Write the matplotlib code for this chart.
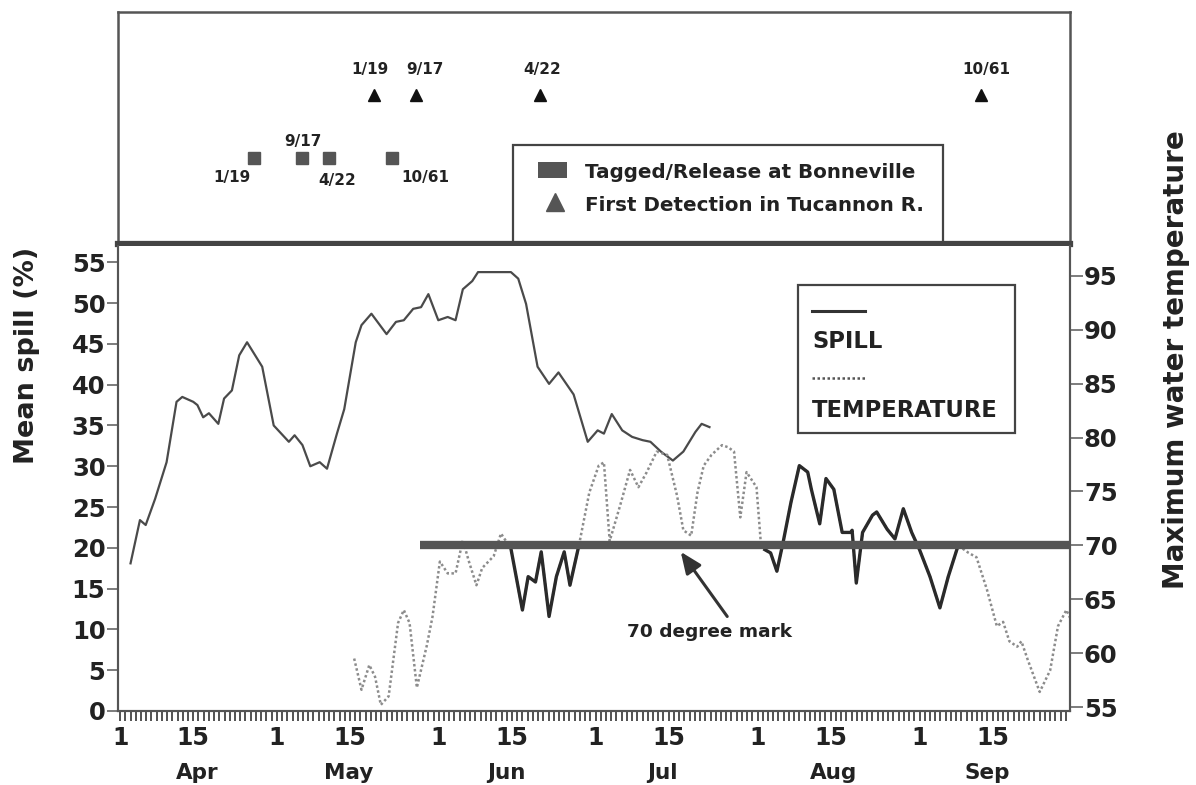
import numpy as np
import matplotlib
matplotlib.use('Agg')
import matplotlib.pyplot as plt
from matplotlib.patches import Rectangle

plt.rcParams['font.family'] = ['DejaVu Sans']
plt.rcParams['font.weight'] = 'bold'

# day 0 = April 1
spill_day = [2.0, 3.8, 4.9, 6.7, 8.9, 10.8, 11.9, 14.0, 14.8, 15.9, 17.0, 18.8, 19.9, 21.4,
             22.8, 24.3, 27.2, 29.4, 32.3, 33.4, 34.9, 36.4, 38.2, 39.6, 41.5, 42.9, 45.1,
             46.2, 48.1, 51.0, 52.8, 54.3, 56.1, 57.6, 59.0, 60.9, 62.7, 64.2, 65.6, 67.4,
             68.5, 71.8, 74.8, 76.2, 77.7, 79.9, 82.1, 83.9, 86.8, 89.5, 91.4, 92.6, 94.1,
             96.1, 98.0, 100.0, 101.5, 103.5, 105.8, 107.8, 110.1, 111.3, 112.8]
spill_pct = [18.1, 23.4, 22.8, 26.0, 30.5, 37.9, 38.5, 37.9, 37.5, 36.0, 36.5, 35.2, 38.3, 39.3,
             43.6, 45.2, 42.2, 35.0, 33.0, 33.8, 32.6, 30.0, 30.5, 29.7, 34.0, 37.0, 45.2,
             47.3, 48.7, 46.2, 47.7, 47.9, 49.3, 49.5, 51.1, 47.9, 48.3, 47.9, 51.7, 52.7,
             53.8, 53.8, 53.8, 53.0, 49.9, 42.2, 40.1, 41.5, 38.8, 33.0, 34.4, 34.0, 36.4,
             34.4, 33.6, 33.2, 33.0, 31.8, 30.7, 31.8, 34.2, 35.2, 34.8]

temp_day = [44.8, 46.2, 47.7, 48.8, 49.9, 51.4, 53.2, 54.3, 55.4, 56.8, 58.7, 59.8, 61.2, 62.7,
            64.2, 65.6, 66.7, 68.2, 69.3, 71.5, 72.9, 74.8, 77.0, 78.1, 79.5, 80.6, 82.1, 83.5,
            85.0, 86.1, 87.9, 89.8, 91.6, 92.6, 93.7, 95.7, 97.6, 99.2, 100.8, 102.7, 104.7,
            106.6, 107.8, 109.3, 110.5, 111.7, 113.2, 115.2, 116.4, 117.5, 118.7, 119.9, 121.8,
            122.6, 123.4, 124.5, 125.7, 126.9, 128.4, 130.0, 131.6, 132.3, 133.9, 135.1, 136.6,
            138.2, 139.8, 140.1, 140.9, 142.1, 144.0, 144.8, 146.8, 148.3, 149.9, 151.5, 153.0,
            155.0, 156.9, 158.5, 160.4, 162.4, 163.9, 165.9, 167.8, 169.0, 170.2, 171.7, 172.5,
            173.7, 176.0, 178.0, 179.5, 181.1, 182.2]
temp_f = [59.5, 56.6, 58.9, 57.8, 55.2, 56.0, 62.8, 64.0, 62.8, 56.8, 60.7, 63.4, 68.5, 67.4,
          67.4, 70.5, 68.6, 66.3, 67.9, 69.0, 71.1, 69.7, 64.0, 67.1, 66.6, 69.4, 63.4, 67.1,
          69.4, 66.3, 70.2, 74.9, 77.4, 77.7, 70.4, 73.7, 77.0, 75.4, 76.8, 78.7, 78.4,
          74.6, 71.4, 70.9, 74.9, 77.4, 78.4, 79.3, 79.1, 78.7, 72.6, 76.8, 75.4,
          70.4, 69.6, 69.3, 67.6, 70.3, 74.0, 77.4, 76.8, 75.2, 72.0, 76.2, 75.2,
          71.2, 71.2, 71.4, 66.5, 71.2, 72.8, 73.1, 71.5, 70.6, 73.4, 71.2, 69.6,
          67.1, 64.2, 67.1, 70.0, 69.3, 68.9, 65.9, 62.5, 62.9, 61.1, 60.6, 61.1,
          59.4, 56.4, 58.4, 62.5, 64.0, 62.9]
# stretches of the temperature trace printed solid in the original
dark_spans = [(74.8, 87.9), (123.4, 160.4)]

release_day = [25.6, 34.9, 40.0, 52.0]
release_lab = ['1/19', '9/17', '4/22', '10/61']
detect_day = [48.6, 56.7, 80.3, 164.8]
detect_lab = ['1/19', '9/17', '4/22', '10/61']

tick_days = [0, 14, 30, 44, 61, 75, 91, 105, 122, 136, 153, 167]
tick_labs = ['1', '15'] * 6
month_days = [14.8, 43.8, 74, 103.8, 136.5, 166]
months = ['Apr', 'May', 'Jun', 'Jul', 'Aug', 'Sep']

W, H = 1196, 785
fig = plt.figure(figsize=(11.96, 7.85), dpi=100)
txt = '#222222'

# ---------- top panel ----------
axt = fig.add_axes([118 / W, 1 - 244 / H, 952 / W, 232 / H])
axt.set_xlim(-0.4, 181.8)
axt.set_ylim(-0.37, 3.32)
axt.set_xticks([])
axt.set_yticks([])
for s in ['top', 'left', 'right']:
    axt.spines[s].set_color('#555555')
    axt.spines[s].set_linewidth(1.8)
axt.spines['bottom'].set_color('#444444')
axt.spines['bottom'].set_linewidth(4.5)

axt.plot(release_day, [1] * len(release_day), ls='none', marker='s', ms=8.5,
         color='#555555', mec='#555555')
axt.plot(detect_day, [2] * len(detect_day), ls='none', marker='^', ms=9,
         color='#111111')
rel_off = [(-16, -14), (0, 12), (6, -16), (24, -14)]
for d, lab, off in zip(release_day, release_lab, rel_off):
    axt.annotate(lab, (d, 1), xytext=off, textcoords='offset points',
                 ha='center', va='center', fontsize=11, color=txt)
det_off = [(-3, 18), (6, 18), (2, 18), (4, 18)]
for d, lab, off in zip(detect_day, detect_lab, det_off):
    axt.annotate(lab, (d, 2), xytext=off, textcoords='offset points',
                 ha='center', va='center', fontsize=11, color=txt)

# legend of top panel
axt.add_patch(Rectangle((0.415, 0.0), 0.452, 0.427, transform=axt.transAxes,
                        fill=False, ec='#444444', lw=1.6, zorder=3))
axt.add_patch(Rectangle((0.441, 0.283), 0.031, 0.072, transform=axt.transAxes,
                        fc='#555555', ec='none', zorder=3))
axt.plot([0.459], [0.181], marker='^', ms=13, color='#555555', ls='none',
         transform=axt.transAxes, zorder=3)
axt.text(0.4905, 0.31, 'Tagged/Release at Bonneville', transform=axt.transAxes,
         fontsize=14.3, va='center', ha='left', color=txt)
axt.text(0.4905, 0.168, 'First Detection in Tucannon R.', transform=axt.transAxes,
         fontsize=14.3, va='center', ha='left', color=txt)

# ---------- bottom panel ----------
ax = fig.add_axes([118 / W, 1 - 711 / H, 952 / W, (711 - 246) / H])
ax2 = ax.twinx()
ax.set_xlim(-0.4, 181.8)
ax.set_ylim(0, 57)
ax2.set_ylim(54.63, 97.78)

ax.plot(spill_day, spill_pct, color='#4a4a4a', lw=1.6)

ax2.plot(temp_day, temp_f, color='#8c8c8c', lw=1.8, ls=(0, (1, 1)))
td = np.array(temp_day)
tf = np.array(temp_f)
for a, b in dark_spans:
    m = (td >= a) & (td <= b)
    ax2.plot(td[m], tf[m], color='#2a2a2a', lw=2.4)

ax2.hlines(70, 57.4, 181.8, color='#555555', lw=6, zorder=4)

ax2.annotate('', xy=(107.3, 69.4), xytext=(116.2, 63.4),
             arrowprops=dict(arrowstyle='-|>,head_length=1.3,head_width=0.55',
                             color='#333333', lw=2.2, shrinkA=0, shrinkB=0))
ax2.text(112.9, 62.0, '70 degree mark', ha='center', va='center',
         fontsize=13.3, color=txt)

# axis styling
for a_ in (ax, ax2):
    a_.spines['top'].set_visible(False)
    for s in ['left', 'right', 'bottom']:
        a_.spines[s].set_color('#555555')
        a_.spines[s].set_linewidth(1.5)

ax.set_xticks(tick_days)
ax.set_xticklabels(tick_labs)
ax.set_xticks(np.arange(0, 182), minor=True)
ax.tick_params(axis='x', which='both', direction='out', length=7, width=1.3,
               color='#444444', pad=4, labelsize=17, labelcolor=txt)
ax.set_yticks(np.arange(0, 56, 5))
ax.tick_params(axis='y', direction='out', length=8, width=1.2, color='#666666',
               pad=1, labelsize=17.5, labelcolor=txt)
ax2.set_yticks(np.arange(55, 96, 5))
ax2.tick_params(axis='y', direction='out', length=9, width=1.2, color='#666666',
                pad=1, labelsize=17.5, labelcolor=txt)
for lab in ax.get_xticklabels() + ax.get_yticklabels() + ax2.get_yticklabels():
    lab.set_fontweight('bold')

for d, mname in zip(month_days, months):
    ax.text(d, -0.133, mname, transform=ax.get_xaxis_transform(), ha='center',
            va='center', fontsize=15.5, color=txt)

# legend of bottom panel
ax.add_patch(Rectangle((0.714, 0.598), 0.228, 0.318, transform=ax.transAxes,
                       fill=False, ec='#444444', lw=1.6, zorder=5))
ax.plot([0.729, 0.785], [0.860, 0.860], color='#333333', lw=2.2,
        transform=ax.transAxes, zorder=5)
ax.text(0.729, 0.794, 'SPILL', transform=ax.transAxes, fontsize=16.3,
        ha='left', va='center', color=txt, zorder=5)
ax.plot([0.729, 0.785], [0.716, 0.716], color='#555555', lw=1.8, ls=(0, (1, 1)),
        transform=ax.transAxes, zorder=5)
ax.text(0.729, 0.647, 'TEMPERATURE', transform=ax.transAxes, fontsize=16.3,
        ha='left', va='center', color=txt, zorder=5)

fig.text(27 / W, 1 - 355 / H, 'Mean spill (%)', rotation=90, ha='center',
         va='center', fontsize=19.5, color=txt)
fig.text(1176 / W, 1 - 360 / H, 'Maximum water temperature', rotation=90,
         ha='center', va='center', fontsize=20, color=txt)

fig.savefig('out.png', dpi=100)
